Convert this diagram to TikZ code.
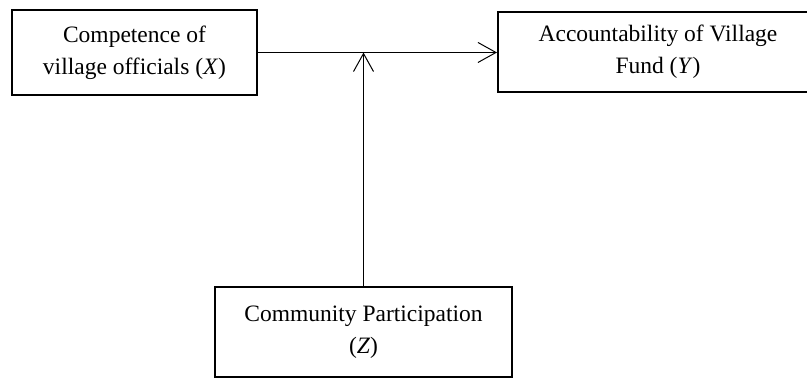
\documentclass[tikz,border=0pt]{standalone}
\usepackage{fontspec}
\setmainfont{Liberation Serif}
\usetikzlibrary{arrows.meta}
\begin{document}
\begin{tikzpicture}[x=1pt,y=-1pt,
  box/.style={draw=black,line width=2pt,inner sep=0pt,align=center,
    font=\fontsize{23.5}{32}\selectfont},
  conn/.style={line width=1pt,-{Straight Barb[length=18pt,width=20pt,line width=1pt]}}]
\useasboundingbox (0,0) rectangle (807,379);
\clip (0,0) rectangle (807,379);
\node[box,minimum width=245pt,minimum height=85pt] (X) at (134.5,52.5)
  {Competence of\\village officials (\textit{X})};
\node[box,minimum width=320pt,minimum height=80pt] (Y) at (658,52)
  {Accountability of Village\\Fund (\textit{Y})};
\node[box,minimum width=297pt,minimum height=90pt] (Z) at (363.5,332)
  {Community Participation\\(\textit{Z})};
\draw[conn] (X.east) -- (X.east -| Y.west);
\draw[conn] (Z.north) -- (Z.north |- X.east);
\end{tikzpicture}
\end{document}
